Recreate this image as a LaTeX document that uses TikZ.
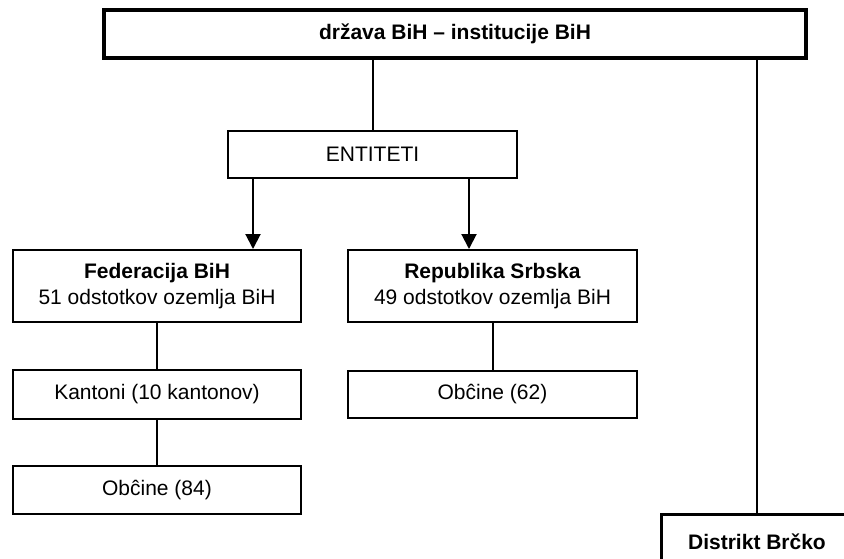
\documentclass[tikz,border=0pt]{standalone}
\usepackage{fontspec}
\setmainfont{Liberation Sans}
\usetikzlibrary{arrows.meta}
\begin{document}
\begin{tikzpicture}[x=1pt,y=-1pt,
  box/.style={draw, line width=2pt, rectangle, inner sep=0pt, align=center,
    font=\fontsize{21}{26}\selectfont},
  thickbox/.style={box, line width=4pt, font=\fontsize{21}{26}\selectfont\bfseries},
  conn/.style={line width=2pt},
  arr/.style={conn, -{Triangle[width=15pt,length=15pt]}}]
\useasboundingbox (0,0) rectangle (844,558);
\clip (0,0) rectangle (844,558);
\node[thickbox, minimum width=702pt, minimum height=48pt] (top) at (455,34) {država BiH – institucije BiH};
\node[box, minimum width=289pt, minimum height=47pt] (ent) at (372.5,154.5) {ENTITETI};
\node[box, minimum width=288pt, minimum height=72pt] (fed) at (157,286) {\textbf{Federacija BiH}\\51 odstotkov ozemlja BiH};
\node[box, minimum width=289pt, minimum height=72pt] (rs) at (492.5,286) {\textbf{Republika Srbska}\\49 odstotkov ozemlja BiH};
\node[box, minimum width=288pt, minimum height=49pt] (kant) at (157,394.5) {Kantoni (10 kantonov)};
\node[box, minimum width=288pt, minimum height=48pt] (ob84) at (157,490) {Obĉine (84)};
\node[box, minimum width=289pt, minimum height=47pt] (ob62) at (492.5,394.5) {Obĉine (62)};
\node[box, line width=3pt, minimum width=192pt, minimum height=66pt, font=\fontsize{21}{26}\selectfont\bfseries] (brcko) at (757,547) {\raisebox{10pt}{Distrikt Brčko}};
\coordinate (a1) at (253,0);
\coordinate (a2) at (469,0);
\draw[conn] (ent.north) -- (ent.north |- top.south);
\draw[arr] (a1 |- ent.south) -- (a1 |- fed.north);
\draw[arr] (a2 |- ent.south) -- (a2 |- rs.north);
\draw[conn] (fed.south) -- (kant.north);
\draw[conn] (kant.south) -- (ob84.north);
\draw[conn] (rs.south) -- (ob62.north);
\draw[conn] (brcko.north) -- (brcko.north |- top.south);
\end{tikzpicture}
\end{document}
